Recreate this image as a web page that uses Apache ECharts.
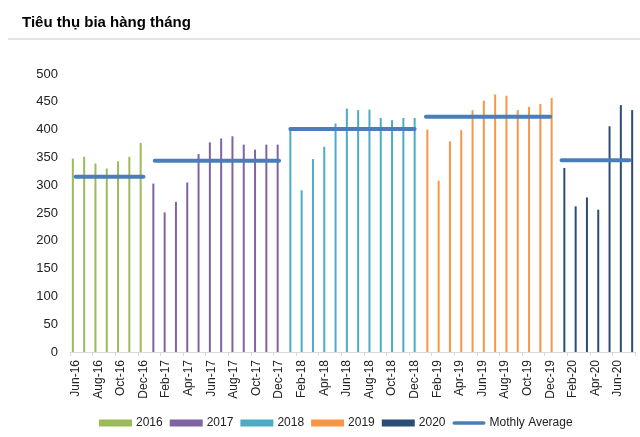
<!DOCTYPE html>
<html>
<head>
<meta charset="utf-8">
<script src="https://cdn.jsdelivr.net/npm/echarts@6/dist/echarts.min.js"></script>
<style>
html,body{margin:0;padding:0;background:#fff;}
#c{width:640px;height:437px;}
</style>
</head>
<body>
<div id="c"></div>
<script>
var categories = ["Jun-16","Jul-16","Aug-16","Sep-16","Oct-16","Nov-16","Dec-16",
"Jan-17","Feb-17","Mar-17","Apr-17","May-17","Jun-17","Jul-17","Aug-17","Sep-17","Oct-17","Nov-17","Dec-17",
"Jan-18","Feb-18","Mar-18","Apr-18","May-18","Jun-18","Jul-18","Aug-18","Sep-18","Oct-18","Nov-18","Dec-18",
"Jan-19","Feb-19","Mar-19","Apr-19","May-19","Jun-19","Jul-19","Aug-19","Sep-19","Oct-19","Nov-19","Dec-19",
"Jan-20","Feb-20","Mar-20","Apr-20","May-20","Jun-20","Jul-20"];
var years = ["2016","2017","2018","2019","2020"];
var v2016 = [348,351,339,330,343,351,376];
var v2017 = [303,251,270,305,356,377,384,388,373,364,373,373];
var v2018 = [399,291,347,369,411,438,435,436,421,417,421,421];
var v2019 = [400,308,379,399,435,452,463,461,435,441,446,457];
var v2020 = [331,262,278,256,406,444,435];
var monthlyAverage = [315,344,401,423,345];

var colors = ["#9BBB59","#8064A2","#4BACC6","#F79646","#2C4D75"];
var yearValues = [v2016,v2017,v2018,v2019,v2020];
var N = categories.length;
var FONT = 'Liberation Sans, Arial, sans-serif';

var series = [];
var start = 0;
yearValues.forEach(function(vals, i){
  var d = new Array(N).fill(null);
  for (var k = 0; k < vals.length; k++) d[start + k] = vals[k];
  series.push({
    name: years[i], type: 'bar', data: d, barWidth: 2, barGap: '-30%',
    itemStyle: {color: colors[i]}, emphasis: {disabled: true}
  });
  start += vals.length;
});
start = 0;
yearValues.forEach(function(vals, i){
  var d = new Array(N).fill(null);
  for (var k = 0; k < vals.length; k++) d[start + k] = monthlyAverage[i];
  series.push({
    name: 'Mothly Average', type: 'line', data: d, symbol: 'none', showSymbol: false,
    lineStyle: {color: '#4A7EBB', width: 4, cap: 'round'}, itemStyle: {color: '#4A7EBB'},
    connectNulls: false, z: 5, emphasis: {disabled: true}
  });
  start += vals.length;
});

var chart = echarts.init(document.getElementById('c'), null, {renderer: 'canvas'});
chart.setOption({
  animation: false,
  textStyle: {fontFamily: FONT},
  title: {
    text: 'Tiêu thụ bia hàng tháng', left: 17, top: 10,
    textStyle: {fontSize: 15, fontWeight: 'bold', color: '#000', fontFamily: FONT}
  },
  graphic: [{type: 'line', shape: {x1: 8, y1: 39, x2: 640, y2: 39}, style: {stroke: '#c8c8c8', lineWidth: 1}}],
  legend: {
    left: 94, top: 412, itemWidth: 33, itemHeight: 7, itemGap: 7,
    data: [
      {name: '2016', icon: 'rect'}, {name: '2017', icon: 'rect'}, {name: '2018', icon: 'rect'},
      {name: '2019', icon: 'rect'}, {name: '2020', icon: 'rect'},
      {name: 'Mothly Average', icon: 'path://M2,0 L38,0 A2,2 0 0 1 38,4 L2,4 A2,2 0 0 1 2,0 Z'}
    ],
    textStyle: {fontSize: 12, color: '#222', fontFamily: FONT, padding: [0,0,0,-1]}
  },
  grid: {left: 70, right: 5, top: 74, bottom: 85, containLabel: false},
  xAxis: {
    type: 'category', data: categories,
    axisLine: {lineStyle: {color: '#d9d9d9', width: 1}},
    axisTick: {show: true, interval: 1, length: 4, lineStyle: {color: '#d9d9d9'}},
    axisLabel: {interval: 1, rotate: 90, fontSize: 12, color: '#222', margin: 8, fontFamily: FONT}
  },
  yAxis: {
    type: 'value', min: 0, max: 500, interval: 50,
    axisLine: {show: false}, axisTick: {show: false}, splitLine: {show: false},
    axisLabel: {fontSize: 13, color: '#222', margin: 12, fontFamily: FONT}
  },
  series: series
});
</script>
</body>
</html>
